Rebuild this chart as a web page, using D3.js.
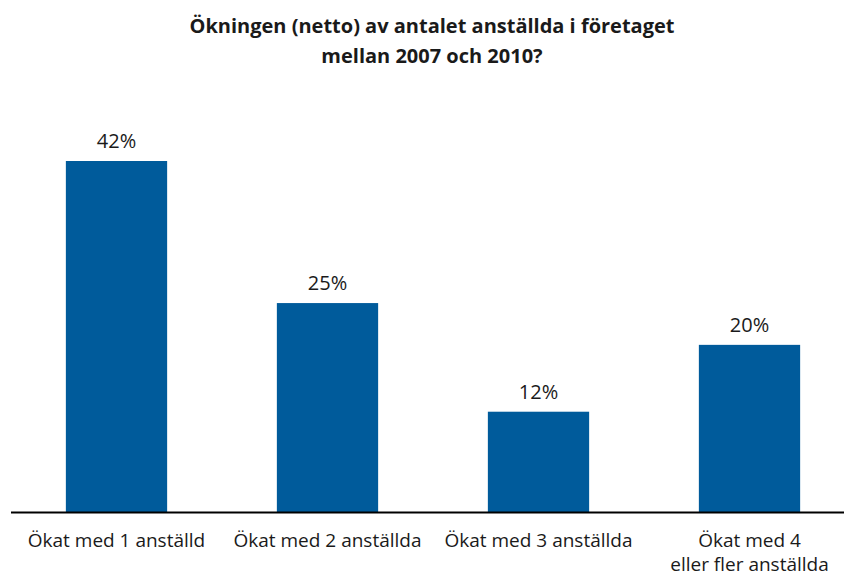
<!DOCTYPE html>
<html>
<head>
<meta charset="utf-8">
<script src="https://cdn.jsdelivr.net/npm/d3@7"></script>
<style>
  body { margin: 0; background: #fff; }
  text { font-family: "Open Sans", "Noto Sans", sans-serif; fill: #1a1a1a; }
</style>
</head>
<body>
<div id="chart"></div>
<script>
const TITLE = ["Ökningen (netto) av antalet anställda i företaget", "mellan 2007 och 2010?"];
const categories = [["Ökat med 1 anställd"], ["Ökat med 2 anställda"], ["Ökat med 3 anställda"], ["Ökat med 4", "eller fler anställda"]];
const values = [42, 25, 12, 20];

const W = 844, H = 576;
const BASE = 512;

const svg = d3.select("#chart").append("svg")
    .attr("width", W)
    .attr("height", H);

// title
svg.append("text")
    .attr("x", 432)
    .attr("y", 33)
    .attr("text-anchor", "middle")
    .style("font-weight", "bold")
    .style("font-size", "20px")
    .selectAll("tspan")
    .data(TITLE)
    .join("tspan")
    .attr("x", 432)
    .attr("dy", (d, i) => i ? 30 : 0)
    .text(d => d);

const x = d3.scaleBand()
    .domain(d3.range(values.length))
    .range([11, 855])
    .paddingInner(0.52)
    .paddingOuter(0.26);

const y = d3.scaleLinear()
    .domain([0, 42])
    .range([BASE, 161]);

svg.selectAll("rect.bar")
    .data(values)
    .join("rect")
    .attr("class", "bar")
    .attr("x", (d, i) => x(i))
    .attr("width", x.bandwidth())
    .attr("y", d => y(d))
    .attr("height", d => BASE - y(d))
    .attr("fill", "#005b9b");

// value labels
svg.selectAll("text.val")
    .data(values)
    .join("text")
    .attr("class", "val")
    .attr("x", (d, i) => x(i) + x.bandwidth() / 2)
    .attr("y", d => y(d) - 13)
    .attr("text-anchor", "middle")
    .style("font-size", "20px")
    .text(d => d + "%");

// axis line
svg.append("line")
    .attr("x1", 11).attr("x2", W)
    .attr("y1", BASE + 0.5).attr("y2", BASE + 0.5)
    .attr("stroke", "#000")
    .attr("stroke-width", 2);

// category labels
svg.selectAll("text.cat")
    .data(categories)
    .join("text")
    .attr("class", "cat")
    .attr("y", 547)
    .attr("text-anchor", "middle")
    .style("font-size", "19px")
    .each(function(d, i) {
        d3.select(this).selectAll("tspan")
            .data(d)
            .join("tspan")
            .attr("x", x(i) + x.bandwidth() / 2)
            .attr("dy", (t, j) => j ? 24 : 0)
            .text(t => t);
    });
</script>
</body>
</html>
